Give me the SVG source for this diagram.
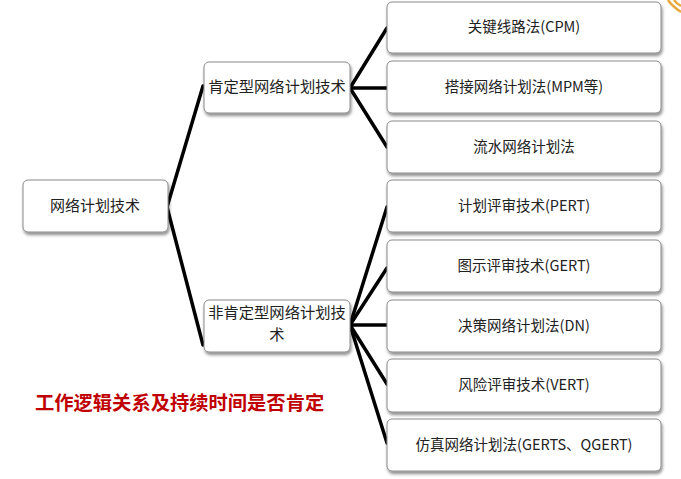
<svg xmlns="http://www.w3.org/2000/svg" width="681" height="479" viewBox="0 0 681 479">
<defs>
<filter id="sh" x="-10%" y="-20%" width="120%" height="150%">
<feDropShadow dx="1" dy="2.5" stdDeviation="1.6" flood-color="#000" flood-opacity="0.45"/>
</filter>
<style>
.box{fill:#fff;stroke:#8a8a8a;stroke-width:1;filter:url(#sh)}
.t{font-family:"Noto Sans CJK SC","Liberation Sans",sans-serif;font-size:14.5px;fill:#222;text-anchor:middle}
.m{font-size:15.3px}
.c{fill:none;stroke:#000;stroke-width:3.5;stroke-linecap:round;stroke-linejoin:round}
.red{font-family:"Noto Sans CJK SC","Liberation Sans",sans-serif;font-size:19.3px;font-weight:bold;fill:#c00000}
</style>
</defs>
<rect width="681" height="479" fill="#fff"/>
<g id="deco" fill="none" stroke="#e8a93a" stroke-width="2.5">
<path d="M668 0 Q672 6 681 12"/>
<path d="M674 0 Q677 4 681 6"/>
</g>
<g id="connectors">
<path class="c" d="M167 207 L203 86"/>
<path class="c" d="M167 207 L203 345"/>
<path class="c" d="M350 88 L387 28"/>
<path class="c" d="M350 88 L387 88"/>
<path class="c" d="M350 88 L387 147"/>
<path class="c" d="M350 325 L387 207"/>
<path class="c" d="M350 325 L387 268"/>
<path class="c" d="M350 325 L387 325"/>
<path class="c" d="M350 325 L387 384"/>
<path class="c" d="M350 325 L387 443"/>
</g>
<g id="root"><rect class="box" x="23" y="180" width="145" height="52" rx="5"/><text class="t" x="95" y="211" style="font-size:15px">网络计划技术</text></g>
<g id="mid1"><rect class="box" x="204" y="62" width="146" height="51" rx="5"/><text class="t m" x="277" y="92">肯定型网络计划技术</text></g>
<g id="mid2"><rect class="box" x="204" y="300" width="146" height="52" rx="5"/><text class="t m" x="277" y="318">非肯定型网络计划技</text><text class="t m" x="277" y="340">术</text></g>
<g id="leaf1"><rect class="box" x="387" y="2" width="274" height="51" rx="5"/><text class="t" x="524" y="32">关键线路法(CPM)</text></g>
<g id="leaf2"><rect class="box" x="387" y="61" width="274" height="52" rx="5"/><text class="t" x="524" y="92">搭接网络计划法(MPM等)</text></g>
<g id="leaf3"><rect class="box" x="387" y="121" width="274" height="52" rx="5"/><text class="t" x="524" y="152">流水网络计划法</text></g>
<g id="leaf4"><rect class="box" x="387" y="180" width="274" height="52" rx="5"/><text class="t" x="524" y="211">计划评审技术(PERT)</text></g>
<g id="leaf5"><rect class="box" x="387" y="240" width="274" height="52" rx="5"/><text class="t" x="524" y="271">图示评审技术(GERT)</text></g>
<g id="leaf6"><rect class="box" x="387" y="300" width="274" height="52" rx="5"/><text class="t" x="524" y="331">决策网络计划法(DN)</text></g>
<g id="leaf7"><rect class="box" x="387" y="359" width="274" height="53" rx="5"/><text class="t" x="524" y="390">风险评审技术(VERT)</text></g>
<g id="leaf8"><rect class="box" x="387" y="419" width="274" height="52" rx="5"/><text class="t" x="524" y="450">仿真网络计划法(GERTS、QGERT)</text></g>
<g id="note"><text class="red" x="35" y="410">工作逻辑关系及持续时间是否肯定</text></g>
</svg>
